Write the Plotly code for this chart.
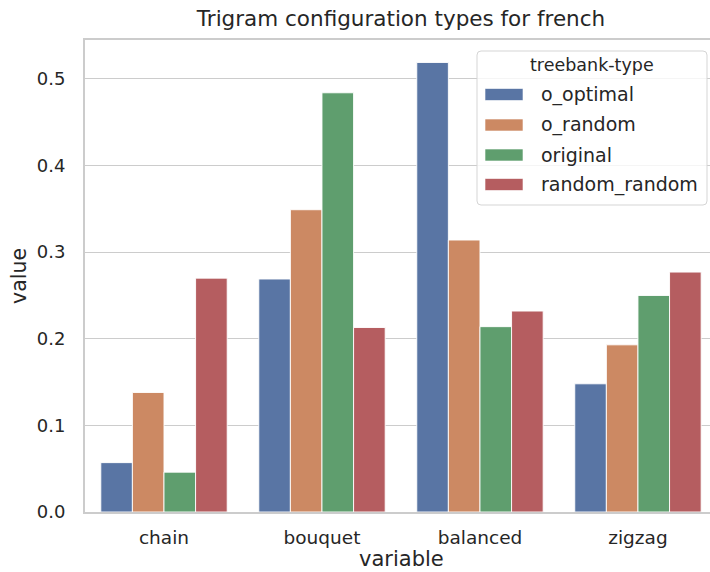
import plotly.graph_objects as go

# Trigram configuration shares per treebank type (French)
categories = ["chain", "bouquet", "balanced", "zigzag"]
series_names = ["o_optimal", "o_random", "original", "random_random"]
o_optimal = [0.057, 0.269, 0.519, 0.148]
o_random = [0.138, 0.349, 0.314, 0.193]
original = [0.046, 0.484, 0.214, 0.250]
random_random = [0.270, 0.213, 0.232, 0.277]
series_values = [o_optimal, o_random, original, random_random]
colors = ["#5975a4", "#cc8963", "#5f9e6e", "#b55d60"]
y_ticks = [0.0, 0.1, 0.2, 0.3, 0.4, 0.5]

W, H = 710, 572
ML, MR, MT, MB = 85, 0, 40, 60
PW, PH = W - ML - MR, H - MT - MB
TEXT = "#262626"
GRID = "#cccccc"
FONT = "DejaVu Sans"


def px_x(px):
    return (px - ML) / PW


def px_y(py):
    return (H - MB - py) / PH


fig = go.Figure()
for name, vals, col in zip(series_names, series_values, colors):
    fig.add_trace(go.Bar(
        x=categories, y=vals, name=name,
        marker=dict(color=col, line=dict(color="rgba(255,255,255,0.9)", width=1)),
        showlegend=False,
    ))

ymax = max(max(v) for v in series_values) * 1.05

# Hand-built legend box in seaborn style
shapes = []
annotations = []
bx0, bx1, by0, by1, r = 477, 707, 51, 205, 4
path = (
    f"M {px_x(bx0 + r)} {px_y(by0)} L {px_x(bx1 - r)} {px_y(by0)} "
    f"Q {px_x(bx1)} {px_y(by0)} {px_x(bx1)} {px_y(by0 + r)} "
    f"L {px_x(bx1)} {px_y(by1 - r)} Q {px_x(bx1)} {px_y(by1)} {px_x(bx1 - r)} {px_y(by1)} "
    f"L {px_x(bx0 + r)} {px_y(by1)} Q {px_x(bx0)} {px_y(by1)} {px_x(bx0)} {px_y(by1 - r)} "
    f"L {px_x(bx0)} {px_y(by0 + r)} Q {px_x(bx0)} {px_y(by0)} {px_x(bx0 + r)} {px_y(by0)} Z"
)
shapes.append(dict(type="path", xref="paper", yref="paper", path=path,
                   fillcolor="rgba(255,255,255,0.8)", line=dict(color="#d5d5d5", width=1),
                   layer="above"))
annotations.append(dict(xref="paper", yref="paper", x=px_x((bx0 + bx1) / 2), y=px_y(65),
                        text="treebank-type", showarrow=False, xanchor="center", yanchor="middle",
                        font=dict(family=FONT, size=17.5, color=TEXT)))
row_y = [94.5, 125, 155, 184.5]
for name, col, ry in zip(series_names, colors, row_y):
    shapes.append(dict(type="rect", xref="paper", yref="paper",
                       x0=px_x(485), x1=px_x(523), y0=px_y(ry - 6), y1=px_y(ry + 6),
                       fillcolor=col, line=dict(color="rgba(255,255,255,0.6)", width=1), layer="above"))
    annotations.append(dict(xref="paper", yref="paper", x=px_x(539), y=px_y(ry),
                            text=name, showarrow=False, xanchor="left", yanchor="middle",
                            font=dict(family=FONT, size=19, color=TEXT)))

# x-axis title placed under the category labels
annotations.append(dict(xref="paper", yref="paper", x=px_x(401), y=px_y(572),
                        text="variable", showarrow=False, xanchor="center", yanchor="bottom",
                        borderpad=0, font=dict(family=FONT, size=21, color=TEXT)))

fig.update_layout(
    width=W, height=H,
    margin=dict(l=ML, r=MR, t=MT, b=MB, autoexpand=False),
    plot_bgcolor="white", paper_bgcolor="white",
    barmode="group", bargap=0.2, bargroupgap=0.0,
    font=dict(family=FONT, color=TEXT, size=18),
    title=dict(text="Trigram configuration types for french", xref="paper",
               x=px_x(401), xanchor="center", yref="container", y=1 - 18 / H, yanchor="middle",
               font=dict(family=FONT, size=21.5, color=TEXT)),
    shapes=shapes, annotations=annotations,
    showlegend=False,
)
fig.update_xaxes(
    range=[-0.5, 3.456], showgrid=False,
    showline=True, linecolor=GRID, linewidth=2, mirror=True,
    ticks="", ticklabelstandoff=8, tickfont=dict(size=18.5),
)
fig.update_yaxes(
    range=[0, ymax], tickvals=y_ticks, ticktext=[f"{v:.1f}" for v in y_ticks],
    showgrid=True, gridcolor=GRID, gridwidth=1, zeroline=False,
    showline=True, linecolor=GRID, linewidth=2,
    ticks="", ticklabelstandoff=14, tickfont=dict(size=18),
    title=dict(text="value", font=dict(size=20.5), standoff=5),
)

fig.write_html("out.html")
